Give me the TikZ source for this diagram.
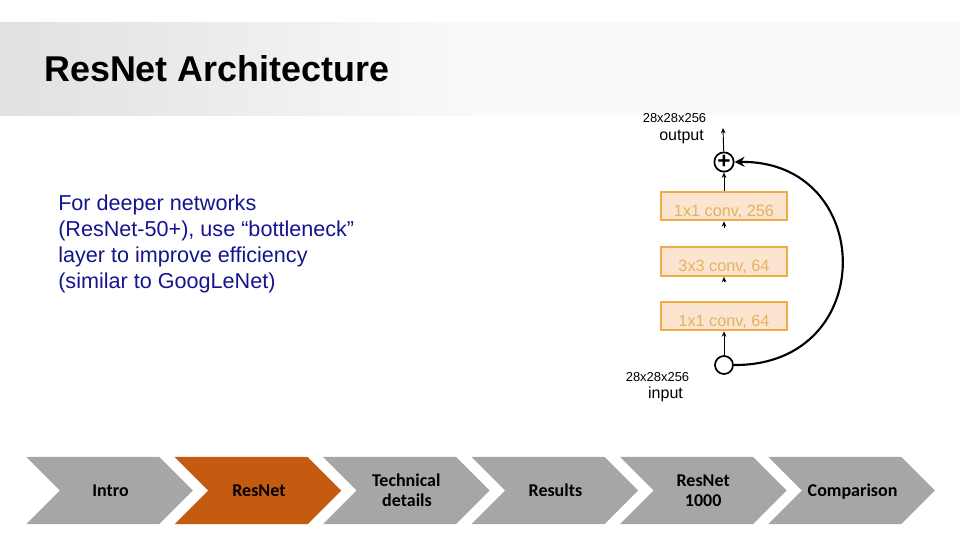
\documentclass[tikz,border=0pt]{standalone}
\usepackage{fontspec}
\setmainfont{Liberation Sans}
\newfontfamily\calibri{Carlito}
\usetikzlibrary{positioning, arrows.meta, shapes.symbols}
\definecolor{chevgray}{HTML}{A6A6A6}
\definecolor{chevorange}{HTML}{C55A11}
\definecolor{boxfill}{HTML}{FBE5D0}
\definecolor{boxline}{HTML}{F0AC48}
\definecolor{boxtext}{HTML}{E3B25E}
\definecolor{bodyblue}{HTML}{14148F}
\newcommand{\convtext}[1]{\raisebox{-7.6pt}[0pt][0pt]{#1}}
\tikzset{>={Stealth[length=4pt,width=3.5pt]}, x=0.75pt, y=-0.75pt,
  chev/.style={signal, signal from=west, signal to=east, signal pointer angle=90,
    fill=chevgray, minimum width=125pt, minimum height=50.5pt, inner sep=0pt,
    align=center, text=black, font=\calibri\fontsize{13.5}{15}\selectfont\bfseries},
  conv/.style={draw=boxline, fill=boxfill, line width=1.5pt, minimum width=94.5pt,
    minimum height=21.5pt, inner sep=0pt, text=boxtext, font=\fontsize{12.2}{14}\selectfont},
  dim/.style={font=\fontsize{9.7}{11}\selectfont, inner sep=0pt},
  tag/.style={font=\fontsize{12}{14}\selectfont, inner sep=0pt},
  junc/.style={circle, draw, fill=white, line width=1.3pt, minimum size=14.5pt, inner sep=0pt},
  stub/.style={->, line width=0.7pt, shorten <=14pt}}

\begin{document}
\begin{tikzpicture}
    \useasboundingbox (0,0) rectangle (960,540);
    \shade[left color=black!12, right color=black!2] (0,22) rectangle (480,115);
    \fill[black!2] (480,22) rectangle (960,115);
    \node[anchor=west, inner sep=0pt, font=\fontsize{26.9}{32}\selectfont\bfseries] (title) at (44,69) {ResNet Architecture};
    \node[anchor=west, inner sep=0pt, align=left, text=bodyblue, font=\fontsize{16.2}{19.5}\selectfont] (body) at (58,244)
        {For deeper networks\\(ResNet-50+), use “bottleneck”\\layer to improve efficiency\\(similar to GoogLeNet)};

    % bottleneck block
    \node[conv] (c3) at (724,206) {\convtext{1x1 conv, 256}};
    \node[conv] (c2) at (724,261.5) {\convtext{3x3 conv, 64}};
    \node[conv] (c1) at (724,316) {\convtext{1x1 conv, 64}};
    \node[junc, minimum size=13.5pt] (in) at (724,365) {};
    \node[junc, font=\bfseries\fontsize{17}{17}\selectfont] (add) at (724,162) {+};
    \coordinate (top) at (723,128);
    \node[tag] (out) at (681.5,136.5) {output};
    \node[dim] (outdim) at (674.5,118.5) {28x28x256};
    \node[tag] (inp) at (665.5,394.5) {input};
    \node[dim] (indim) at (657.5,377.5) {28x28x256};
    \draw[->, line width=0.7pt] (in) -- (c1);
    \draw[stub] (c1) -- (c2);
    \draw[stub] (c2) -- (c3);
    \draw[->, line width=0.7pt] (c3) -- (add);
    \draw[->, line width=0.7pt] (add) -- (top);
    \draw[-{Stealth[length=7.5pt,width=7.5pt]}, line width=1.6pt] (in.east) .. controls (880,366) and (876,160) .. (add.east);

    % agenda bar
    \node[chev] (intro) at (109.5,490.5) {\hspace*{1.5pt}Intro};
    \node[chev, fill=chevorange, right=11pt of intro] (resnet) {\hspace*{1.5pt}ResNet};
    \node[chev, right=11pt of resnet] (tech) {Technical\hspace{6pt}\\\hspace*{1pt}details};
    \node[chev, right=11pt of tech] (results) {\hspace*{1pt}Results};
    \node[chev, right=11pt of results] (thousand) {ResNet\hspace{3pt}\\1000};
    \node[chev, right=11pt of thousand] (comp) {\hspace*{1.5pt}\rule{0pt}{11.1pt}Comparison};
\end{tikzpicture}
\end{document}
